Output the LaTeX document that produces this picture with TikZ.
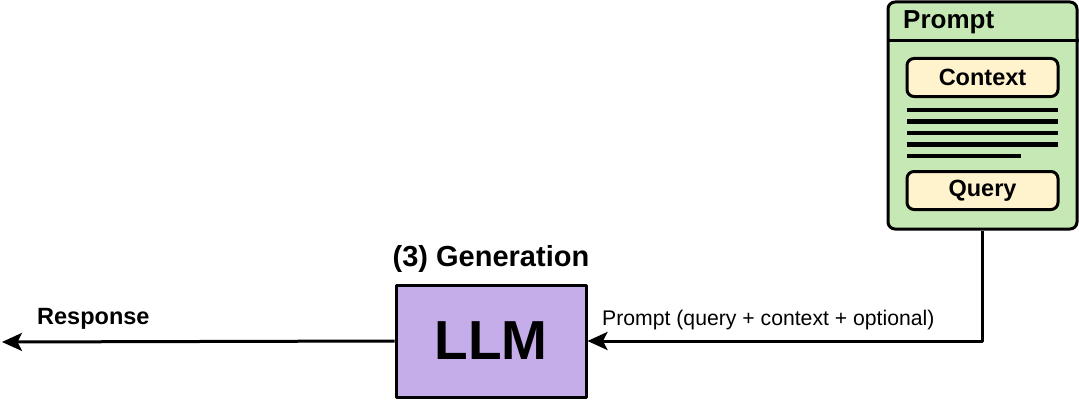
\documentclass[tikz,border=0pt]{standalone}
\usepackage{fontspec}
\setmainfont{Liberation Sans}
\usetikzlibrary{arrows.meta,calc,positioning}
\definecolor{promptgreen}{RGB}{198,232,180}
\definecolor{llmpurple}{RGB}{196,173,232}
\definecolor{slotcream}{RGB}{255,243,206}

\begin{document}
\begin{tikzpicture}[x=1pt, y=1pt, line join=round, >={Stealth[length=20pt,width=18pt,inset=4.5pt]},
    box/.style={draw=black, line width=3pt},
    slot/.style={box, fill=slotcream, rounded corners=7pt, minimum width=151pt, minimum height=38pt, inner sep=0pt, font=\fontsize{23.5}{26}\selectfont\bfseries},
    bar/.style={line width=4.5pt},
    link/.style={line width=3pt, ->}]
    \useasboundingbox (0,0) rectangle (1079,400);

    % prompt card with its slots
    \node[box, fill=promptgreen, rounded corners=7pt, minimum width=189pt, minimum height=227pt] (prompt) at (982.5,284.5) {};
    \draw[box] ($(prompt.north west)+(0,-40)$) -- ($(prompt.north east)+(0,-40)$);
    \node[anchor=base west, inner sep=0pt, font=\fontsize{26}{28}\selectfont\bfseries] (promptlabel) at (903,371) {Prompt};
    \node[slot] (context) at (982.5,322.5) {Context};
    \foreach \y/\len in {290/151, 278.5/151, 267/151, 255.5/151, 244/114}
        \draw[bar] (907,\y) -- ++(\len,0);
    \node[slot] (query) at (982.5,209.5) {Query};

    % generation step
    \node[box, fill=llmpurple, minimum width=190pt, minimum height=112pt, font=\fontsize{55}{60}\selectfont\bfseries] (llm) at (491,59) {LLM};
    \node[anchor=base, inner sep=0pt, font=\fontsize{29}{32}\selectfont\bfseries] (stage) at (491,134) {(3) Generation};

    % connectors
    \draw[link] (prompt.south) |- (llm.east);
    \node[anchor=base west, inner sep=0pt, font=\fontsize{21.2}{24}\selectfont] (promptnote) at (602,75) {Prompt (query + context + optional)};
    \coordinate (out) at (2,58);
    \draw[link] (llm.west) -- (out);
    \node[anchor=base west, inner sep=0pt, font=\fontsize{23.5}{26}\selectfont\bfseries] (response) at (37,76) {Response};
\end{tikzpicture}
\end{document}
